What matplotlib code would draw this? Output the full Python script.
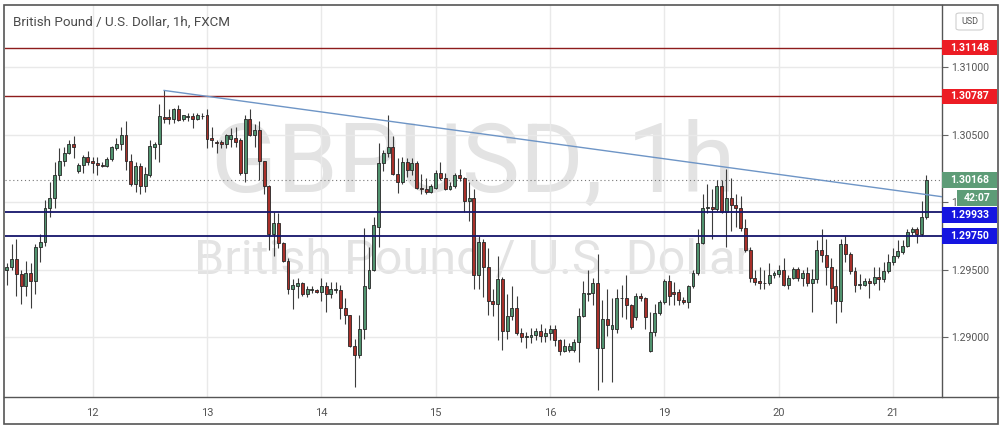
import numpy as np
import matplotlib
matplotlib.use('Agg')
import matplotlib.pyplot as plt
import matplotlib.transforms as mtransforms
from matplotlib.patches import Rectangle, FancyBboxPatch
from matplotlib.lines import Line2D

plt.rcParams['font.family'] = ['Roboto', 'DejaVu Sans']

# ---- GBPUSD 1h, bougies du 11 (06h) au 21 (07h) ----
opens = [
    1.2950, 1.2952, 1.2958, 1.2947, 1.2938, 1.2948, 1.2942, 1.2967, 1.2971, 1.2996,
    1.3003, 1.3020, 1.3031, 1.3037, 1.3043, 1.3023, 1.3028, 1.3034, 1.3031, 1.3029,
    1.3028, 1.3027, 1.3032, 1.3040, 1.3043, 1.3050, 1.3031, 1.3014, 1.3027, 1.3012,
    1.3020, 1.3041, 1.3043, 1.3063, 1.3063, 1.3062, 1.3069, 1.3062, 1.3063, 1.3064,
    1.3062, 1.3064, 1.3065, 1.3048, 1.3045, 1.3045, 1.3043, 1.3047, 1.3048, 1.3046,
    1.3022, 1.3062, 1.3050, 1.3054, 1.3031, 1.3012, 1.2977, 1.2985, 1.2970, 1.2957,
    1.2936, 1.2938, 1.2940, 1.2932, 1.2935, 1.2935, 1.2934, 1.2938, 1.2932, 1.2935,
    1.2935, 1.2922, 1.2917, 1.2894, 1.2887, 1.2906, 1.2937, 1.2950, 1.2982, 1.3029,
    1.3037, 1.3041, 1.3021, 1.3015, 1.3030, 1.3024, 1.3029, 1.3011, 1.3010, 1.3008,
    1.3011, 1.3022, 1.3018, 1.3010, 1.3012, 1.3020, 1.3018, 1.3001, 1.3003, 1.2946,
    1.2971, 1.2952, 1.2927, 1.2925, 1.2943, 1.2905, 1.2916, 1.2922, 1.2903, 1.2900,
    1.2900, 1.2902, 1.2905, 1.2901, 1.2903, 1.2906, 1.2898, 1.2890, 1.2891, 1.2891,
    1.2897, 1.2916, 1.2932, 1.2933, 1.2940, 1.2892, 1.2914, 1.2906, 1.2906, 1.2929,
    1.2929, 1.2924, 1.2915, 1.2931, 1.2929, 1.2890, 1.2904, 1.2918, 1.2926, 1.2942,
    1.2934, 1.2934, 1.2928, 1.2926, 1.2938, 1.2948, 1.2970, 1.2996, 1.2997, 1.2995,
    1.3012, 1.2993, 1.3003, 1.2998, 1.2996, 1.2981, 1.2965, 1.2944, 1.2942, 1.2940,
    1.2940, 1.2946, 1.2947, 1.2950, 1.2939, 1.2944, 1.2951, 1.2944, 1.2948, 1.2940,
    1.2943, 1.2965, 1.2961, 1.2952, 1.2938, 1.2927, 1.2969, 1.2962, 1.2949, 1.2939,
    1.2939, 1.2942, 1.2940, 1.2945, 1.2943, 1.2949, 1.2956, 1.2960, 1.2963, 1.2968,
    1.2978, 1.2980, 1.2977, 1.2989,
]
highs = [
    1.2955, 1.2969, 1.2973, 1.2950, 1.2957, 1.2955, 1.2969, 1.2977, 1.3002, 1.3015,
    1.3030, 1.3040, 1.3041, 1.3046, 1.3049, 1.3029, 1.3035, 1.3038, 1.3034, 1.3034,
    1.3030, 1.3034, 1.3042, 1.3048, 1.3056, 1.3060, 1.3036, 1.3030, 1.3029, 1.3026,
    1.3046, 1.3045, 1.3073, 1.3083, 1.3069, 1.3070, 1.3072, 1.3065, 1.3066, 1.3066,
    1.3066, 1.3066, 1.3069, 1.3056, 1.3046, 1.3046, 1.3051, 1.3055, 1.3056, 1.3048,
    1.3065, 1.3069, 1.3058, 1.3060, 1.3031, 1.3013, 1.2993, 1.2992, 1.2971, 1.2959,
    1.2943, 1.2944, 1.2941, 1.2938, 1.2938, 1.2936, 1.2944, 1.2941, 1.2941, 1.2941,
    1.2939, 1.2929, 1.2917, 1.2899, 1.2917, 1.2981, 1.2967, 1.2989, 1.3044, 1.3039,
    1.3065, 1.3049, 1.3033, 1.3034, 1.3033, 1.3033, 1.3031, 1.3021, 1.3018, 1.3014,
    1.3024, 1.3030, 1.3022, 1.3015, 1.3022, 1.3025, 1.3019, 1.3015, 1.3010, 1.2975,
    1.2973, 1.2966, 1.2936, 1.2960, 1.2945, 1.2932, 1.2938, 1.2931, 1.2907, 1.2904,
    1.2907, 1.2907, 1.2910, 1.2907, 1.2909, 1.2909, 1.2899, 1.2899, 1.2896, 1.2899,
    1.2922, 1.2942, 1.2950, 1.2944, 1.2962, 1.2928, 1.2936, 1.2929, 1.2936, 1.2939,
    1.2946, 1.2925, 1.2933, 1.2933, 1.2930, 1.2919, 1.2925, 1.2928, 1.2943, 1.2946,
    1.2941, 1.2936, 1.2930, 1.2939, 1.2950, 1.2980, 1.3006, 1.3014, 1.3010, 1.3017,
    1.3017, 1.3025, 1.3018, 1.3006, 1.3005, 1.2988, 1.2967, 1.2950, 1.2952, 1.2950,
    1.2955, 1.2949, 1.2954, 1.2959, 1.2946, 1.2952, 1.2952, 1.2950, 1.2952, 1.2951,
    1.2972, 1.2980, 1.2973, 1.2959, 1.2951, 1.2973, 1.2975, 1.2963, 1.2952, 1.2947,
    1.2944, 1.2944, 1.2952, 1.2952, 1.2956, 1.2962, 1.2966, 1.2972, 1.2972, 1.2980,
    1.2982, 1.2982, 1.3001, 1.3020,
]
lows = [
    1.2939, 1.2950, 1.2931, 1.2925, 1.2931, 1.2922, 1.2932, 1.2956, 1.2968, 1.2989,
    1.2996, 1.3017, 1.3027, 1.3036, 1.3033, 1.3022, 1.3022, 1.3028, 1.3022, 1.3020,
    1.3026, 1.3026, 1.3031, 1.3039, 1.3039, 1.3024, 1.3012, 1.3008, 1.3006, 1.3008,
    1.3019, 1.3032, 1.3030, 1.3059, 1.3058, 1.3059, 1.3060, 1.3060, 1.3060, 1.3055,
    1.3061, 1.3062, 1.3040, 1.3041, 1.3037, 1.3040, 1.3040, 1.3041, 1.3041, 1.3020,
    1.3015, 1.3049, 1.3041, 1.3017, 1.3006, 1.2965, 1.2960, 1.2966, 1.2956, 1.2932,
    1.2921, 1.2929, 1.2931, 1.2930, 1.2933, 1.2933, 1.2927, 1.2919, 1.2929, 1.2933,
    1.2914, 1.2910, 1.2893, 1.2863, 1.2885, 1.2899, 1.2936, 1.2949, 1.2967, 1.3023,
    1.3034, 1.3020, 1.3007, 1.3014, 1.3019, 1.3020, 1.3010, 1.3006, 1.3006, 1.3007,
    1.3010, 1.3017, 1.3009, 1.3009, 1.3011, 1.3016, 1.2993, 1.2986, 1.2936, 1.2936,
    1.2930, 1.2917, 1.2916, 1.2898, 1.2891, 1.2899, 1.2913, 1.2902, 1.2897, 1.2892,
    1.2896, 1.2898, 1.2897, 1.2897, 1.2898, 1.2894, 1.2887, 1.2889, 1.2889, 1.2889,
    1.2882, 1.2915, 1.2927, 1.2924, 1.2861, 1.2867, 1.2901, 1.2867, 1.2903, 1.2915,
    1.2914, 1.2906, 1.2913, 1.2927, 1.2906, 1.2889, 1.2901, 1.2917, 1.2925, 1.2924,
    1.2924, 1.2924, 1.2925, 1.2922, 1.2937, 1.2946, 1.2969, 1.2992, 1.2973, 1.2994,
    1.2992, 1.2967, 1.2979, 1.2982, 1.2979, 1.2963, 1.2941, 1.2939, 1.2936, 1.2936,
    1.2939, 1.2944, 1.2945, 1.2938, 1.2936, 1.2943, 1.2942, 1.2938, 1.2938, 1.2919,
    1.2940, 1.2956, 1.2939, 1.2925, 1.2911, 1.2919, 1.2956, 1.2947, 1.2934, 1.2936,
    1.2938, 1.2929, 1.2939, 1.2935, 1.2941, 1.2948, 1.2954, 1.2959, 1.2962, 1.2967,
    1.2976, 1.2970, 1.2975, 1.2988,
]
closes = [
    1.2952, 1.2958, 1.2947, 1.2938, 1.2948, 1.2942, 1.2967, 1.2971, 1.2996, 1.3003,
    1.3020, 1.3031, 1.3037, 1.3043, 1.3041, 1.3028, 1.3034, 1.3030, 1.3029, 1.3028,
    1.3027, 1.3032, 1.3041, 1.3043, 1.3050, 1.3031, 1.3014, 1.3027, 1.3012, 1.3021,
    1.3042, 1.3043, 1.3064, 1.3062, 1.3062, 1.3069, 1.3061, 1.3065, 1.3064, 1.3062,
    1.3065, 1.3064, 1.3047, 1.3046, 1.3044, 1.3043, 1.3050, 1.3050, 1.3045, 1.3022,
    1.3062, 1.3050, 1.3054, 1.3031, 1.3012, 1.2977, 1.2985, 1.2970, 1.2957, 1.2936,
    1.2939, 1.2940, 1.2932, 1.2936, 1.2936, 1.2934, 1.2938, 1.2932, 1.2936, 1.2936,
    1.2922, 1.2917, 1.2894, 1.2887, 1.2906, 1.2938, 1.2950, 1.2983, 1.3029, 1.3037,
    1.3041, 1.3021, 1.3015, 1.3030, 1.3024, 1.3029, 1.3011, 1.3010, 1.3008, 1.3012,
    1.3022, 1.3018, 1.3010, 1.3012, 1.3020, 1.3018, 1.3001, 1.3003, 1.2946, 1.2971,
    1.2952, 1.2927, 1.2925, 1.2943, 1.2905, 1.2916, 1.2922, 1.2903, 1.2900, 1.2901,
    1.2902, 1.2905, 1.2901, 1.2903, 1.2906, 1.2898, 1.2890, 1.2894, 1.2894, 1.2897,
    1.2916, 1.2933, 1.2933, 1.2940, 1.2892, 1.2914, 1.2909, 1.2909, 1.2929, 1.2929,
    1.2924, 1.2908, 1.2931, 1.2929, 1.2915, 1.2904, 1.2918, 1.2926, 1.2942, 1.2931,
    1.2932, 1.2928, 1.2926, 1.2938, 1.2948, 1.2970, 1.2996, 1.2997, 1.2995, 1.3012,
    1.2993, 1.3003, 1.2998, 1.2996, 1.2981, 1.2965, 1.2944, 1.2941, 1.2940, 1.2940,
    1.2946, 1.2948, 1.2950, 1.2939, 1.2944, 1.2951, 1.2944, 1.2948, 1.2940, 1.2943,
    1.2965, 1.2961, 1.2952, 1.2937, 1.2927, 1.2969, 1.2962, 1.2949, 1.2939, 1.2939,
    1.2942, 1.2940, 1.2945, 1.2943, 1.2949, 1.2956, 1.2960, 1.2964, 1.2968, 1.2978,
    1.2980, 1.2977, 1.2989, 1.30168,
]

first_hour = 6  # heure de la 1ere bougie (le 12 a 00h = 24)
day_ticks = [24, 48, 72, 96, 120, 144, 168, 192]
day_labels = ['12', '13', '14', '15', '16', '19', '20', '21']
price_ticks = [1.290, 1.295, 1.300, 1.305, 1.310]

resistances = [1.31148, 1.30787]
supports = [1.29933, 1.29750]
last_price = 1.30168
countdown = '42:07'

# ligne de tendance baissiere (ancrage sur le sommet du 12)
trend_x = [39, 202.2]
trend_y = [1.3083, 1.30043]

W, H = 1004, 430
fig = plt.figure(figsize=(W / 100, H / 100), dpi=100)
fig.patch.set_facecolor('white')
ax = fig.add_axes([5 / W, 33 / H, 936.7 / W, 392 / H])
ax.set_xlim(5.6, 202.2)
ax.set_ylim(1.28559, 1.31463)

# filigrane
ax.text(0.5, 0.523, 'GBPUSD, 1h', transform=ax.transAxes, ha='center', va='baseline',
        fontsize=70, color='#e3e3e3', zorder=0.5)
ax.text(0.5, 0.314, 'British Pound / U.S. Dollar', transform=ax.transAxes, ha='center',
        va='baseline', fontsize=35, color='#e3e3e3', zorder=0.5)

# bougies
x = np.arange(first_hour, first_hour + len(closes))
o = np.array(opens)
c = np.array(closes)
up = c >= o
body_lo = np.minimum(o, c)
body_h = np.maximum(np.abs(c - o), 0.00003)
colors = np.where(up, '#51936f', '#a8302a')
ax.vlines(x, lows, highs, color='#3c3c3c', lw=0.8, zorder=3)
ax.bar(x, body_h, bottom=body_lo, width=0.62, color=colors, edgecolor='#262626',
       linewidth=0.6, zorder=4)

# niveaux
for lvl in resistances:
    ax.axhline(lvl, color='#8e1c1c', lw=1.0, zorder=5)
for lvl in supports:
    ax.axhline(lvl, color='#15156b', lw=1.3, zorder=5)
ax.axhline(last_price, color='#777777', lw=0.8, ls=(0, (1, 2.5)), zorder=2)
ax.plot(trend_x, trend_y, color='#6e95c6', lw=1.0, zorder=5)

# grille et axes
ax.set_xticks(day_ticks)
ax.set_xticklabels(day_labels)
ax.set_yticks(price_ticks)
ax.set_yticklabels([f'{p:.5f}' for p in price_ticks])
ax.yaxis.tick_right()
ax.grid(True, color='#e9e9e9', lw=1.0, zorder=0)
ax.tick_params(axis='y', length=4, width=0.8, color='#666666', labelsize=7.6,
               labelcolor='#555555', pad=3)
ax.tick_params(axis='x', length=0, labelsize=8, labelcolor='#555555', pad=8)
for side in ['top', 'left', 'bottom']:
    ax.spines[side].set_visible(False)
ax.spines['right'].set_color('#555555')
ax.spines['right'].set_linewidth(1.0)

fig.add_artist(Line2D([4 / W, 998 / W], [33 / H, 33 / H], color='#555555', lw=1.0))
fig.add_artist(Rectangle((4 / W, 6 / H), 994 / W, 419 / H, fill=False,
                         ec='#555555', lw=1.2, transform=fig.transFigure))

# etiquettes de prix sur l'axe de droite
lab_tr = mtransforms.blended_transform_factory(ax.transAxes, ax.transData)
box_right = 1.0 + 55.3 / 936.7
box_h = 15.5 / 13500


def price_label(y, text, color, x0=1.0):
    ax.add_patch(Rectangle((x0, y - box_h / 2), box_right - x0, box_h, transform=lab_tr,
                           facecolor=color, edgecolor='none', clip_on=False, zorder=6))
    ax.text((x0 + box_right) / 2, y, text, transform=lab_tr, ha='center', va='center',
            color='white', fontsize=7.6, fontweight='bold', clip_on=False, zorder=7)


for lvl in resistances:
    price_label(lvl, f'{lvl:.5f}', '#ec1c24')
price_label(last_price, f'{last_price:.5f}', '#5d9c77')
price_label(last_price - 0.00133, countdown, '#5d9c77', x0=1.0 + 15 / 936.7)
price_label(supports[0] - 0.00026, f'{supports[0]:.5f}', '#1515e0')
price_label(supports[1], f'{supports[1]:.5f}', '#1515e0')

# titre et devise
fig.text(13 / W, (H - 22) / H, 'British Pound / U.S. Dollar, 1h, FXCM', fontsize=9.6,
         color='#4a4a4a', va='center')
fig.add_artist(FancyBboxPatch((956 / W, (H - 30) / H), 27 / W, 17 / H,
                              boxstyle='round,pad=0,rounding_size=0.004',
                              transform=fig.transFigure, fc='white', ec='#cfcfcf', lw=0.8))
fig.text(969.5 / W, (H - 21.5) / H, 'USD', ha='center', va='center', fontsize=6.5,
         color='#555555')

fig.savefig('out.png', dpi=100)
